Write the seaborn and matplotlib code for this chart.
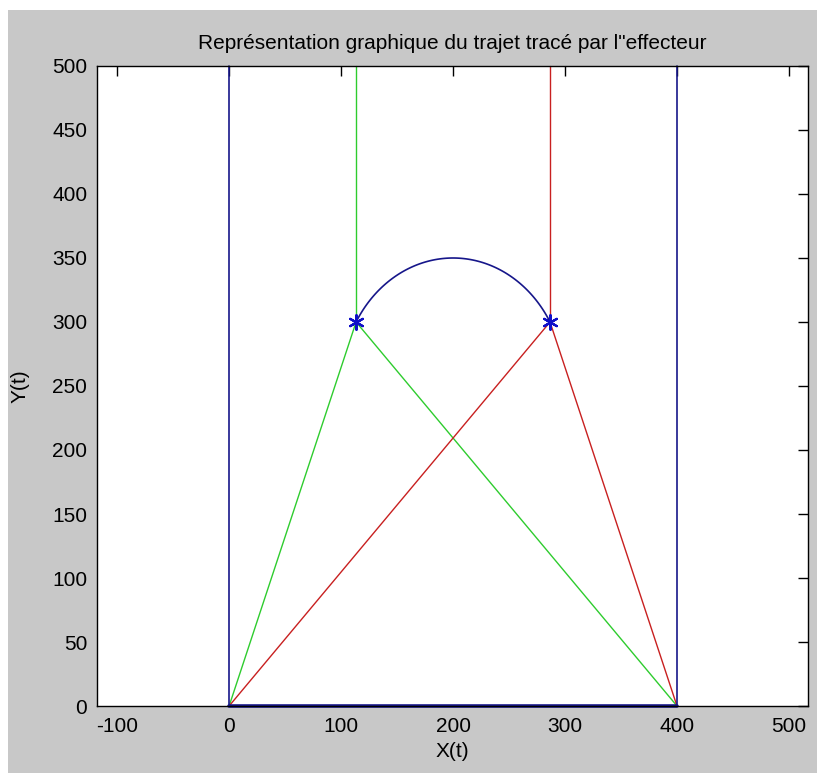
import numpy as np
import pandas as pd
import matplotlib
matplotlib.use("Agg")
import matplotlib.pyplot as plt
import seaborn as sns
from matplotlib.patches import Rectangle

sns.set_theme(style="white")
plt.rcParams['font.family'] = ['Liberation Sans', 'DejaVu Sans']
plt.rcParams['axes.unicode_minus'] = False

# ---- data ----
frame_x = [[0, 0], [0, 400], [400, 400]]
frame_y = [[500, 0], [0, 0], [0, 500]]

green_x = [0, 113.4, 400]
green_y = [0, 300, 0]
green_up_x = [113.4, 113.4]
green_up_y = [300, 500]

red_x = [0, 286.6, 400]
red_y = [0, 300, 0]
red_up_x = [286.6, 286.6]
red_up_y = [300, 500]

arc_center = (200, 250)
arc_radius = 100
arc_angles_deg = (30, 150)

star_x = [113.4, 286.6]
star_y = [300, 300]

xticks = [-100, 0, 100, 200, 300, 400, 500]
yticks = [0, 50, 100, 150, 200, 250, 300, 350, 400, 450, 500]

title = "Représentation graphique du trajet tracé par l\"effecteur"

# ---- figure ----
W, H = 817, 773
fig = plt.figure(figsize=(W / 100, H / 100), dpi=100, facecolor="white")
fig.patches.append(Rectangle((8 / W, 0), 1 - 8 / W, 1 - 10 / H,
                             transform=fig.transFigure, facecolor="#c8c8c8",
                             edgecolor="none", zorder=-10))
ax = fig.add_axes([97 / W, (H - 706) / H, 711 / W, 640 / H])
ax.set_facecolor("white")

navy = "#16168a"
green = "#2ecc2e"
red = "#c82020"
blue = "#1010c8"

def seg(x, y, color, lw=1.0):
    df = pd.DataFrame({"x": x, "y": y, "o": range(len(x))})
    sns.lineplot(data=df, x="x", y="y", sort=False, estimator=None,
                 color=color, linewidth=lw, ax=ax, clip_on=False)

seg(green_x, green_y, green)
seg(green_up_x, green_up_y, green)
seg(red_x, red_y, red)
seg(red_up_x, red_up_y, red)
for fx, fy in zip(frame_x, frame_y):
    seg(fx, fy, navy, lw=2.6 if fy[0] == fy[1] else 1.2)

t = np.deg2rad(np.linspace(arc_angles_deg[0], arc_angles_deg[1], 100))
seg(arc_center[0] + arc_radius * np.cos(t), arc_center[1] + arc_radius * np.sin(t), navy, lw=1.2)

sns.scatterplot(x=star_x, y=star_y, marker=(6, 2, 0), s=110, color=blue,
                edgecolor=blue, linewidth=1.6, ax=ax, zorder=5, clip_on=False)

ax.set_xlim(-118, 517)
ax.set_ylim(0, 500)
ax.set_xticks(xticks)
ax.set_yticks(yticks)
ax.tick_params(direction="in", length=7, width=1, top=True, right=True,
               labelsize=15, colors="black")
ax.tick_params(axis="x", pad=8)
ax.tick_params(axis="y", pad=7)
for s in ax.spines.values():
    s.set_visible(True)
    s.set_color("black")
    s.set_linewidth(1.0)

ax.set_xlabel("X(t)", fontsize=15, color="black", labelpad=4)
ax.set_ylabel("Y(t)", fontsize=15, color="black", labelpad=16)
ax.set_title(title, fontsize=15, color="black", pad=12)
ax.grid(False)

fig.savefig("out.png", dpi=100, facecolor=fig.get_facecolor())
